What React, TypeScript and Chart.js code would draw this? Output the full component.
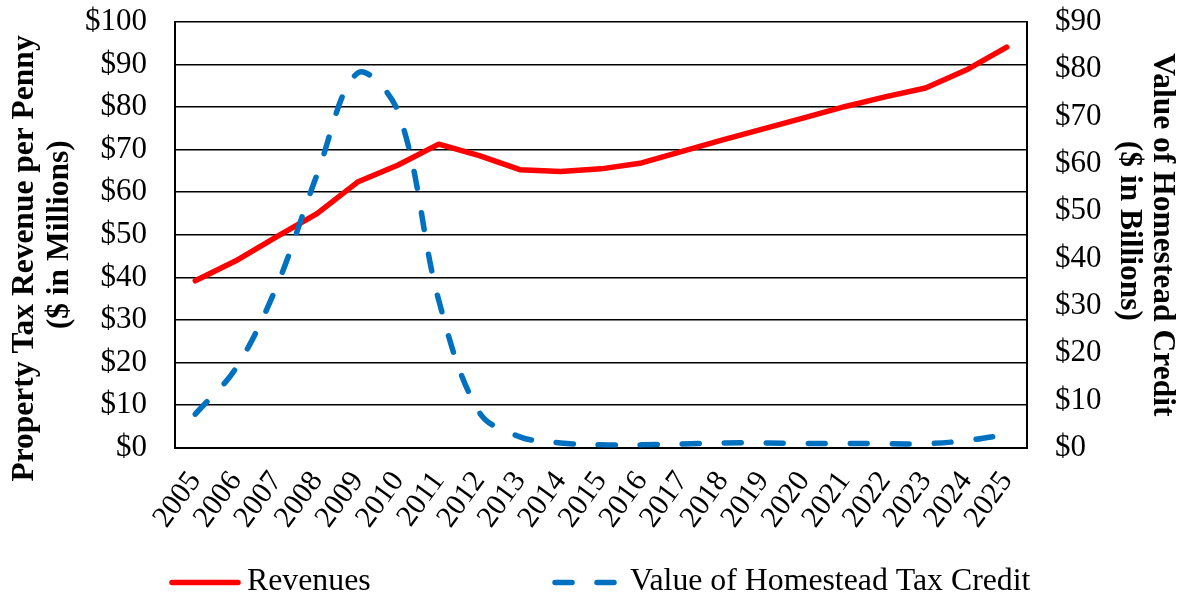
import React, { useEffect, useRef } from 'react';
import { Chart, registerables } from 'chart.js';

Chart.register(...registerables);

const years = ['2005', '2006', '2007', '2008', '2009', '2010', '2011', '2012', '2013', '2014', '2015', '2016', '2017', '2018', '2019', '2020', '2021', '2022', '2023', '2024', '2025'];
const revenues = [39.2, 43.9, 49.5, 55.0, 62.4, 66.4, 71.3, 68.6, 65.3, 64.9, 65.5, 66.9, 69.6, 72.3, 74.9, 77.5, 80.1, 82.4, 84.5, 88.7, 94.1];
const homesteadCredit = [7.1, 16.8, 34.0, 57.7, 79.2, 71.0, 31.2, 7.5, 2.3, 1.0, 0.6, 0.6, 0.8, 1.0, 1.0, 0.9, 0.9, 0.85, 0.85, 1.5, 2.8];
const seriesNames = ['Revenues', 'Value of Homestead Tax Credit'];
const leftTitle = ['Property Tax Revenue per Penny      ', '($ in Millions)'];
const rightTitle = ['Value of Homestead Credit', '($ in Billions) '];
const leftRange = [0, 100, 10];
const rightRange = [0, 90, 10];
const currency = (v: number | string) => '$' + v;

const FONT = 'Liberation Serif';

const legendPlugin = {
  id: 'bottomLegend',
  afterDraw(chart: any) {
    const ctx = chart.ctx as CanvasRenderingContext2D;
    const slots = [
      { x: 172, w: 66, tx: 247 },
      { x: 555, w: 59, tx: 630 },
    ];
    const y = 582.5;
    chart.data.datasets.forEach((ds: any, i: number) => {
      const s = slots[i];
      if (!s) return;
      ctx.save();
      ctx.strokeStyle = ds.borderColor;
      ctx.lineWidth = ds.borderWidth;
      ctx.lineCap = 'round';
      ctx.setLineDash(ds.borderDash || []);
      ctx.beginPath();
      ctx.moveTo(s.x, y);
      ctx.lineTo(s.x + s.w, y);
      ctx.stroke();
      ctx.setLineDash([]);
      ctx.fillStyle = '#000';
      ctx.font = `31.8px "${FONT}"`;
      ctx.textBaseline = 'middle';
      ctx.textAlign = 'left';
      ctx.fillText(ds.label, s.tx, 582);
      ctx.restore();
    });
  },
};

export default function App() {
  const canvasRef = useRef<HTMLCanvasElement | null>(null);

  useEffect(() => {
    if (!canvasRef.current) return;
    const chart = new Chart(canvasRef.current, {
      type: 'line',
      data: {
        labels: years,
        datasets: [
          {
            label: seriesNames[0],
            data: revenues,
            yAxisID: 'y',
            borderColor: '#FF0000',
            backgroundColor: '#FF0000',
            borderWidth: 5.5,
            borderCapStyle: 'round',
            borderJoinStyle: 'round',
            tension: 0,
            pointRadius: 0,
            fill: false,
            order: 1,
          },
          {
            label: seriesNames[1],
            data: homesteadCredit,
            yAxisID: 'y1',
            borderColor: '#0070C0',
            backgroundColor: '#0070C0',
            borderWidth: 5.5,
            borderDash: [17, 25],
            borderCapStyle: 'round',
            borderJoinStyle: 'round',
            tension: 0.35,
            pointRadius: 0,
            fill: false,
            order: 0,
          },
        ],
      },
      options: {
        animation: false,
        responsive: true,
        maintainAspectRatio: false,
        layout: { padding: { left: 6, right: 5, top: 0, bottom: 46 } },
        plugins: {
          legend: { display: false },
          tooltip: { enabled: false },
        },
        scales: {
          x: {
            type: 'category',
            offset: true,
            grid: { display: false, drawTicks: false },
            border: { display: true, color: '#000', width: 2 },
            ticks: {
              autoSkip: false,
              minRotation: 54,
              maxRotation: 54,
              padding: 17.3,
              color: '#000',
              font: { family: FONT, size: 30 },
            },
          },
          y: {
            type: 'linear',
            position: 'left',
            min: leftRange[0],
            max: leftRange[1],
            grid: {
              color: '#000',
              lineWidth: 1.6,
              drawTicks: true,
              tickLength: 28,
              tickColor: 'rgba(0,0,0,0)',
            },
            border: { display: true, color: '#000', width: 2 },
            ticks: {
              stepSize: leftRange[2],
              autoSkip: false,
              padding: 0,
              color: '#000',
              font: { family: FONT, size: 31, lineHeight: '44px' },
              callback: (v: any) => currency(v),
            },
            title: {
              display: true,
              text: leftTitle,
              color: '#000',
              font: { family: FONT, size: 31.5, weight: 'bold', lineHeight: '35px' },
              padding: { top: 1, bottom: 8 },
            },
          },
          y1: {
            type: 'linear',
            position: 'right',
            min: rightRange[0],
            max: rightRange[1],
            grid: {
              drawOnChartArea: false,
              drawTicks: true,
              tickLength: 28,
              tickColor: 'rgba(0,0,0,0)',
            },
            border: { display: true, color: '#000', width: 2 },
            ticks: {
              stepSize: rightRange[2],
              autoSkip: false,
              padding: 0,
              color: '#000',
              font: { family: FONT, size: 31, lineHeight: '44px' },
              callback: (v: any) => currency(v),
            },
            title: {
              display: true,
              text: rightTitle,
              color: '#000',
              font: { family: FONT, size: 31.5, weight: 'bold', lineHeight: '32.5px' },
              padding: { top: 1.75, bottom: 11.75 },
            },
          },
        },
      },
      plugins: [legendPlugin],
    } as any);
    return () => chart.destroy();
  }, []);

  return (
    <div style={{ position: 'fixed', left: 0, top: 0, width: 1185, height: 598, background: '#fff' }}>
      <canvas ref={canvasRef} />
    </div>
  );
}
